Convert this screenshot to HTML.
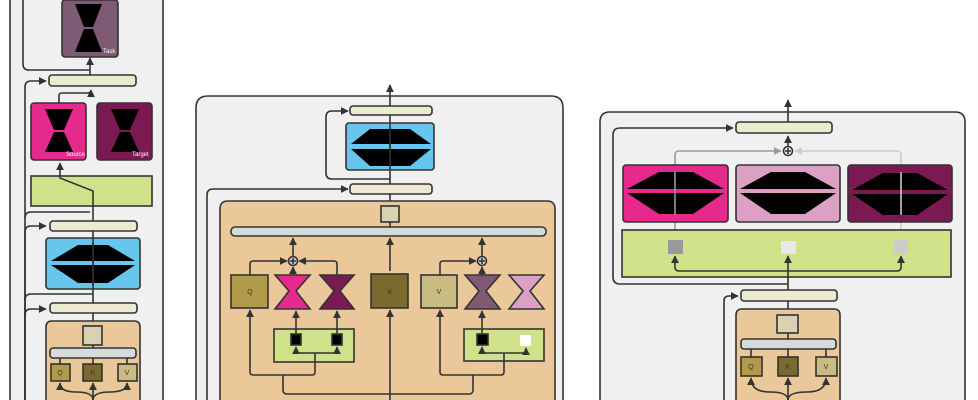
<!DOCTYPE html>
<html><head><meta charset="utf-8"><style>html,body{margin:0;padding:0;background:#fff;width:978px;height:400px;overflow:hidden}svg{display:block;overflow:hidden}</style></head><body>
<svg width="978" height="400" viewBox="0 0 978 400" xmlns="http://www.w3.org/2000/svg" font-family="Liberation Sans, sans-serif">
<defs>
<marker id="a" viewBox="0 0 10 10" refX="9" refY="5" markerWidth="5" markerHeight="5" orient="auto-start-reverse"><path d="M0,0L10,5L0,10z" fill="#333"/></marker>
<marker id="g1" viewBox="0 0 10 10" refX="9" refY="5" markerWidth="5" markerHeight="5" orient="auto"><path d="M0,0L10,5L0,10z" fill="#999"/></marker>
<marker id="g2" viewBox="0 0 10 10" refX="9" refY="5" markerWidth="5" markerHeight="5" orient="auto"><path d="M0,0L10,5L0,10z" fill="#ccc"/></marker>
</defs>
<g stroke="#333" stroke-width="1.6" fill="none">
<!-- Panel 1 -->
<rect x="10" y="-1" width="153" height="402" fill="#f0f0f0" stroke="none"/>
<line x1="10" y1="0" x2="10" y2="400"/>
<line x1="163" y1="0" x2="163" y2="400"/>
<path d="M23,0 V64 Q23,70 29,70 H90"/>
<rect x="62" y="0" width="56" height="57" rx="3" fill="#7f5a75"/>
<line x1="90" y1="75" x2="90" y2="58" marker-end="url(#a)"/>
<path d="M25,400 V218 Q25,212 31,212 H90"/>
<path d="M25,218 V87 Q25,81 31,81 H46" marker-end="url(#a)"/>
<rect x="49" y="75" width="87" height="11" rx="3" fill="#ecebd1"/>
<path d="M59,103 V96 Q59,93 62,93 H88 Q91,93 91,90" marker-end="url(#a)"/>
<rect x="31" y="103" width="55" height="57" rx="3" fill="#e6298c"/>
<rect x="97" y="103" width="55" height="57" rx="3" fill="#7b1a52"/>
<rect x="31" y="176" width="121" height="30" fill="#cfe28a"/>
<path d="M93,221 V191 L60,178 V163" marker-end="url(#a)"/>
<path d="M25,400 V300 Q25,294 31,294 H93"/>
<path d="M25,300 V232 Q25,226 31,226 H46" marker-end="url(#a)"/>
<rect x="50" y="221" width="87" height="10" rx="3" fill="#ecebd1"/>
<rect x="46" y="238" width="94" height="51" rx="3" fill="#67c6ee"/>
<line x1="93" y1="231" x2="93" y2="303"/>
<path d="M25,400 V315 Q25,309 31,309 H46" marker-end="url(#a)"/>
<rect x="50" y="303" width="87" height="10" rx="3" fill="#ecebd1"/>
<line x1="93" y1="313" x2="93" y2="321"/>
<path d="M46,400 V327 Q46,321 52,321 H134 Q140,321 140,327 V400" fill="#eac89a"/>
<line x1="93" y1="345" x2="93" y2="348"/>
<rect x="83" y="326" width="19" height="19" fill="#d8d2b0"/>
<rect x="50" y="348" width="86" height="10" rx="3" fill="#d5dadb"/>
<line x1="60" y1="358" x2="60" y2="364"/><line x1="93" y1="358" x2="93" y2="364"/><line x1="127" y1="358" x2="127" y2="364"/>
<rect x="51" y="364" width="19" height="17" fill="#b19b4b"/>
<rect x="83" y="364" width="19" height="17" fill="#7a6a2e"/>
<rect x="118" y="364" width="19" height="17" fill="#c9bc82"/>
<line x1="93" y1="400" x2="93" y2="383" marker-end="url(#a)"/>
<path d="M93,400 Q93,392 76,392 Q60,392 60,383" marker-end="url(#a)"/>
<path d="M93,400 Q93,392 110,392 Q127,392 127,383" marker-end="url(#a)"/>

<!-- Panel 2 -->
<path d="M196,400 V108 Q196,96 208,96 H551 Q563,96 563,108 V400" fill="#f0f0f0"/>
<line x1="390" y1="106" x2="390" y2="85" marker-end="url(#a)"/>
<rect x="350" y="106" width="82" height="9" rx="3" fill="#ecebd1"/>
<path d="M390,179 H332 Q326,179 326,173 V117 Q326,111 332,111 H348" marker-end="url(#a)"/>
<rect x="346" y="123" width="88" height="47" rx="3" fill="#67c6ee"/>
<line x1="390" y1="115" x2="390" y2="184"/>
<path d="M207,400 V195 Q207,189 213,189 H348" marker-end="url(#a)"/>
<rect x="350" y="184" width="82" height="10" rx="3" fill="#ecebd1"/>
<line x1="390" y1="194" x2="390" y2="206"/>
<path d="M220,400 V209 Q220,201 228,201 H547 Q555,201 555,209 V400" fill="#eac89a"/>
<rect x="381" y="206" width="18" height="16" fill="#d8d2b0"/>
<line x1="390" y1="222" x2="390" y2="227"/>
<rect x="231" y="227" width="315" height="9" rx="4" fill="#d5dadb"/>
<line x1="293" y1="256" x2="293" y2="238" marker-end="url(#a)"/>
<line x1="482" y1="256" x2="482" y2="238" marker-end="url(#a)"/>
<line x1="390" y1="271" x2="390" y2="238" marker-end="url(#a)"/>
<circle cx="293" cy="261" r="4.5" fill="#ccc"/><path d="M290,261h6M293,258v6"/>
<circle cx="482" cy="261" r="4.5" fill="#ccc"/><path d="M479,261h6M482,258v6"/>
<path d="M250,275 V264 Q250,261 253,261 H287" marker-end="url(#a)"/>
<path d="M337,275 V264 Q337,261 334,261 H299" marker-end="url(#a)"/>
<path d="M440,275 V264 Q440,261 443,261 H476" marker-end="url(#a)"/>
<line x1="293" y1="275" x2="293" y2="267" marker-end="url(#a)"/>
<line x1="482" y1="275" x2="482" y2="267" marker-end="url(#a)"/>
<rect x="231" y="275" width="37" height="33" fill="#b19b4b"/>
<rect x="371" y="274" width="37" height="34" fill="#7a6a2e"/>
<rect x="421" y="275" width="36" height="33" fill="#c9bc82"/>
<polygon points="275,275 310,275 296,291 310,309 275,309 289,291" fill="#e6298c"/>
<polygon points="320,275 354,275 340,291 354,309 320,309 334,291" fill="#7b1a52"/>
<polygon points="465,275 500,275 486,291 500,309 465,309 479,291" fill="#7f5a75"/>
<polygon points="509,275 544,275 530,291 544,309 509,309 523,291" fill="#dba0c4"/>
<rect x="274" y="329" width="80" height="33" fill="#cfe28a"/>
<rect x="464" y="329" width="80" height="32" fill="#cfe28a"/>
<line x1="296" y1="334" x2="296" y2="311" marker-end="url(#a)"/>
<line x1="337" y1="334" x2="337" y2="311" marker-end="url(#a)"/>
<line x1="482" y1="334" x2="482" y2="311" marker-end="url(#a)"/>
<rect x="291" y="334" width="10" height="11" fill="#000"/>
<rect x="332" y="334" width="10" height="11" fill="#000"/>
<rect x="477" y="334" width="11" height="11" fill="#000"/>
<rect x="520" y="335" width="11" height="11" fill="#fff" stroke="none"/>
<path d="M296,347 V350 Q296,353 299,353 H334 Q337,353 337,350 V347" marker-start="url(#a)" marker-end="url(#a)"/>
<path d="M482,347 V350 Q482,353 485,353 H523 Q526,353 526,350 V348" marker-start="url(#a)" marker-end="url(#a)"/>
<path d="M315,353 V372 Q315,375 312,375 H253 Q250,375 250,372 V310" marker-end="url(#a)"/>
<path d="M504,353 V372 Q504,375 501,375 H443 Q440,375 440,372 V310" marker-end="url(#a)"/>
<path d="M283,375 V390 Q283,394 287,394 H469 Q473,394 473,390 V375"/>
<line x1="390" y1="400" x2="390" y2="310" marker-end="url(#a)"/>

<!-- Panel 3 -->
<path d="M600,400 V122 Q600,112 610,112 H955 Q965,112 965,122 V400" fill="#f0f0f0"/>
<line x1="788" y1="122" x2="788" y2="100" marker-end="url(#a)"/>
<path d="M788,284 H620 Q613,284 613,277 V135 Q613,128 620,128 H733" marker-end="url(#a)"/>
<rect x="736" y="122" width="96" height="11" rx="3" fill="#ecebd1"/>
<line x1="788" y1="146" x2="788" y2="136" marker-end="url(#a)"/>
<path d="M675,246 V155 Q675,151 679,151 H781" stroke="#999" marker-end="url(#g1)"/>
<path d="M901,246 V155 Q901,151 897,151 H795" stroke="#ccc" marker-end="url(#g2)"/>
<rect x="623" y="165" width="105" height="57" rx="3" fill="#e6298c"/>
<rect x="736" y="165" width="104" height="57" rx="3" fill="#dba0c4"/>
<rect x="848" y="165" width="104" height="57" rx="3" fill="#7b1a52"/>
<rect x="622" y="230" width="329" height="47" fill="#cfe28a"/>
<circle cx="788" cy="151" r="4.5" fill="#eee"/><path d="M785,151h6M788,148v6"/>
<line x1="788" y1="290" x2="788" y2="256" marker-end="url(#a)"/>
<path d="M788,271 H679 Q675,271 675,267 V256" marker-end="url(#a)"/>
<path d="M788,271 H897 Q901,271 901,267 V256" marker-end="url(#a)"/>
<rect x="668" y="240" width="15" height="14" fill="#999" stroke="none"/>
<rect x="781" y="241" width="15" height="13" fill="#e8e8e8" stroke="none"/>
<rect x="893" y="240" width="15" height="14" fill="#ccc" stroke="none"/>
<path d="M724,400 V301 Q724,296 729,296 H738" marker-end="url(#a)"/>
<rect x="741" y="290" width="96" height="11" rx="3" fill="#ecebd1"/>
<line x1="788" y1="301" x2="788" y2="315"/>
<path d="M736,400 V315 Q736,309 742,309 H834 Q840,309 840,315 V400" fill="#eac89a"/>
<rect x="777" y="315" width="21" height="18" fill="#d8d2b0"/>
<line x1="788" y1="333" x2="788" y2="339"/>
<rect x="741" y="339" width="95" height="10" rx="3" fill="#d5dadb"/>
<line x1="751" y1="349" x2="751" y2="357"/><line x1="788" y1="349" x2="788" y2="357"/><line x1="826" y1="349" x2="826" y2="357"/>
<rect x="741" y="357" width="21" height="19" fill="#b19b4b"/>
<rect x="778" y="357" width="20" height="19" fill="#7a6a2e"/>
<rect x="816" y="357" width="21" height="19" fill="#c9bc82"/>
<line x1="788" y1="400" x2="788" y2="378" marker-end="url(#a)"/>
<path d="M788,400 Q788,392 770,392 Q751,392 751,378" marker-end="url(#a)"/>
<path d="M788,400 Q788,392 807,392 Q826,392 826,378" marker-end="url(#a)"/>
</g>
<g fill="#000">
<polygon points="75,4 102,4 93,27 84,27"/><polygon points="84,29 93,29 102,52 75,52"/>
<polygon points="45,109 73,109 64,130 54,130"/><polygon points="54,132 64,132 73,152 45,152"/>
<polygon points="111,109 139,109 130,130 120,130"/><polygon points="120,132 130,132 139,152 111,152"/>
<polygon points="78,245 108,245 135,261 51,261"/><polygon points="51,265 135,265 108,283 78,283"/>
<polygon points="370,129 410,129 431,144 351,144"/><polygon points="351,149 431,149 410,166 370,166"/>
<polygon points="659,172 693,172 724,189 627,189"/><polygon points="627,193 724,193 693,214 659,214"/>
<polygon points="771,172 805,172 836,189 740,189"/><polygon points="740,193 836,193 805,214 771,214"/>
<polygon points="883,173 917,173 948,190 852,190"/><polygon points="852,194 948,194 917,215 883,215"/>
</g>
<g stroke="#999" stroke-width="1.6"><line x1="675" y1="172" x2="675" y2="215"/></g>
<g stroke="#ccc" stroke-width="1.6"><line x1="901" y1="172" x2="901" y2="215"/></g>
<g stroke="#333" stroke-width="1.6"><line x1="390" y1="128" x2="390" y2="167"/><line x1="93" y1="243" x2="93" y2="285"/></g>
<g font-size="6" fill="#fff">
<text x="103" y="53">Task</text><text x="66" y="156">Source</text><text x="132" y="156">Target</text>
</g>
<g font-size="7" fill="#333" text-anchor="middle">
<text x="60" y="375">Q</text><text x="93" y="375">K</text><text x="127" y="375">V</text>
<text x="250" y="294">Q</text><text x="390" y="294">K</text><text x="439" y="294">V</text>
<text x="751" y="369">Q</text><text x="788" y="369">K</text><text x="826" y="369">V</text>
</g>
</svg>
</body></html>
